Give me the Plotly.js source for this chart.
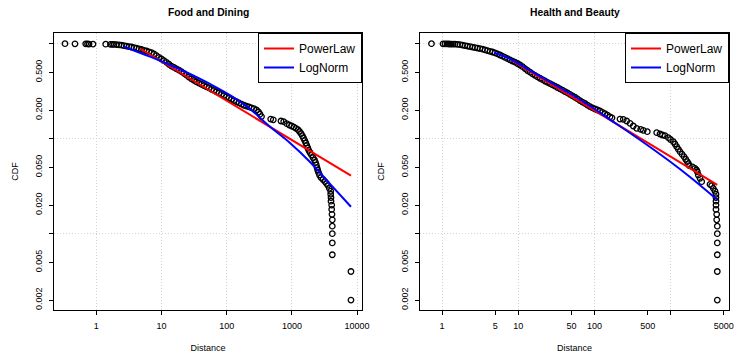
<!DOCTYPE html>
<html><head><meta charset="utf-8">
<script src="https://cdn.plot.ly/plotly-3.0.1.min.js"></script>
<style>html,body{margin:0;padding:0;background:#fff;}#chart{width:742px;height:354px;}</style>
</head><body><div id="chart"></div>
<script>
// ---------- Food and Dining (empirical CCDF) ----------
const foodDistance = [0.331,0.471,0.688,0.733,0.773,0.890,1.394,1.651,1.772,
1.868,2.041,2.229,2.435,2.660,2.905,3.173,3.466,3.786,4.136,4.518,4.934,5.390,5.888,6.432,7.025,7.673,8.381,9.155,10.0,
10.92,11.93,13.03,14.23,15.55,16.98,18.55,20.26,22.13,24.18,26.41,28.85,31.51,34.42,37.60,41.07,44.86,48.99,53.52,58.46,
63.86,69.75,76.18,83.22,90.89,99.29,108.4,118.5,129.4,141.3,154.4,168.7,184.2,201.2,219.8,240.1,262.2,286.4,307.4,324.1,341.8,
473.0,518.4,680.3,748.5,832.3,912.0,992.7,1077,1156,1240,1308,1379,1443,1506,1572,1634,1692,1753,1816,1894,1998,2107,2221,
2301,2366,2426,2486,2558,2650,2794,2999,3218,3393,3553,3746,3936,3936,3978,3978,4076,4076,4120,4164,4164,4164,4164,4164,8050,8050];
const foodCdf = [1.000,0.998,0.996,0.994,0.992,0.990,0.988,0.986,0.984,
0.982,0.978,0.971,0.964,0.953,0.944,0.932,0.923,0.910,0.897,0.884,0.869,0.852,0.838,0.822,0.804,0.779,0.750,0.719,0.690,
0.662,0.636,0.608,0.582,0.562,0.544,0.527,0.508,0.488,0.466,0.446,0.427,0.411,0.396,0.384,0.374,0.363,0.352,0.342,0.331,
0.322,0.312,0.303,0.293,0.285,0.276,0.268,0.260,0.252,0.245,0.238,0.231,0.225,0.220,0.216,0.2115,0.2074,0.2005,0.191,0.181,0.171,
0.161,0.158,0.1536,0.151,0.1439,0.1394,0.136,0.1322,0.1287,0.1244,0.119,0.1134,0.1075,0.1017,0.0957,0.0901,0.0848,0.0798,0.0755,0.0716,0.0674,0.0634,0.0597,
0.0562,0.0529,0.0497,0.0468,0.0441,0.0415,0.0390,0.0372,0.0353,0.0338,0.0323,0.030,0.028,0.026,0.024,0.022,0.020,0.018,0.016,0.014,0.012,0.010,0.008,0.006,0.004,0.002];
const foodPowerLawX = [4.68, 8050];
const foodPowerLawY = [0.890, 0.0408];
const foodLogNormX = [2.66,6.66,13.5,27.4,55.4,112,228,430,935,1897,3840,8050];
const foodLogNormY = [0.930,0.730,0.597,0.480,0.377,0.288,0.206,0.139,0.0901,0.0569,0.0334,0.0192];

// ---------- Health and Beauty (empirical CCDF) ----------
const healthDistance = [0.728,1.031,1.095,1.163,1.236,1.313,1.394,1.481,1.597,1.723,1.858,2.004,2.161,2.330,2.513,2.711,2.924,3.153,3.400,3.667,3.955,
4.265,4.599,4.961,5.350,5.769,6.222,6.710,7.237,7.805,8.418,9.078,9.790,10.56,11.39,12.28,13.24,14.28,15.40,16.61,17.92,19.32,20.84,22.47,24.24,
26.15,28.20,30.41,32.79,35.36,38.14,41.13,44.36,47.83,51.58,55.65,60.01,64.71,69.80,75.27,81.18,87.55,94.41,101.8,109.8,118.4,127.7,137.7,148.6,160.2,170.2,
216.8,239.4,265.3,293.2,323.9,358.9,405.1,438.1,494.5,657.1,725.7,782.6,844.0,932.6,996.8,1085,1142,1202,1262,1328,1411,1499,1578,1656,1717,1759,
1938,2090,2187,2241,2308,2431,2559,3289,3462,3634,3824,3942,3942,3942,3942,3942,4027,4027,4101,4101,4101,4101,4101,4101];
const healthCdf = [1.000,0.998,0.996,0.994,0.993,0.992,0.990,0.988,0.983,0.976,0.967,0.955,0.944,0.932,0.921,0.910,0.899,0.888,0.875,0.860,0.846,
0.832,0.818,0.802,0.783,0.760,0.739,0.717,0.697,0.677,0.657,0.639,0.619,0.597,0.573,0.547,0.522,0.501,0.482,0.465,0.448,0.433,0.419,0.405,0.392,
0.380,0.368,0.357,0.346,0.335,0.324,0.313,0.303,0.293,0.283,0.273,0.262,0.252,0.243,0.235,0.226,0.218,0.2115,0.2055,0.2005,0.1957,0.1896,0.1833,0.1768,0.170,0.166,
0.161,0.160,0.1536,0.1453,0.136,0.1287,0.1256,0.1226,0.1185,0.1156,0.1121,0.1094,0.1075,0.1024,0.0981,0.0930,0.0879,0.0824,0.0775,0.0730,0.0687,0.0646,0.0608,0.0573,0.0546,0.0520,
0.0504,0.0488,0.0468,0.0449,0.0415,0.0383,0.0353,0.033,0.032,0.030,0.028,0.026,0.024,0.022,0.020,0.018,0.016,0.014,0.012,0.010,0.008,0.006,0.004,0.002];
const healthPowerLawX = [8.29, 4101];
const healthPowerLawY = [0.664, 0.0326];
const healthLogNormX = [4.813,7.805,14.28,26.15,47.83,87.55,160.2,293.2,536.6,982,1797,4063];
const healthLogNormY = [0.808,0.690,0.522,0.395,0.299,0.221,0.159,0.1148,0.0818,0.0575,0.0395,0.0229];

// ---------- ticks ----------
const leftXTicks = [1,10,100,1000,10000];
const leftXTickText = ['1','10','100','1000','10000'];
const rightXTicks = [1,5,10,50,100,500,1000,5000];
const rightXTickText = ['1','5','10','50','100','500','','5000'];
const yTicks = [1,0.5,0.2,0.1,0.05,0.02,0.01,0.005,0.002];
const yTickText = ['','0.500','0.200','','0.050','0.020','','0.005','0.002'];
const leftXGrid = [1,10,100,1000,10000];
const rightXGrid = [1,10,100,1000];
const yGrid = [1,0.1,0.01];

const FONT = 'Liberation Sans, Arial, Helvetica, sans-serif';
const W = 742, H = 354;
const leftDom = [54/W, 362/W];
const rightDom = [420/W, 729/W];
const yDom = [1-310/H, 1-33/H];
const leftXRange = [-0.6488, 4.0752];
const rightXRange = [-0.2887, 3.7664];
const yRange = [-2.8032, 0.1126];

function mainAxis(extra){
  return Object.assign({type:'log', autorange:false, showline:true, mirror:true, linecolor:'#000', linewidth:1,
    ticks:'outside', ticklen:4, tickwidth:1, tickcolor:'#000', showgrid:false, zeroline:false, ticklabelstandoff:3,
    tickmode:'array', tickfont:{family:FONT, size:9, color:'#000'}}, extra);
}
function gridAxis(extra){
  return Object.assign({type:'log', autorange:false, showline:false, ticks:'', showticklabels:false,
    showgrid:true, gridcolor:'#d3d3d3', griddash:'1px,2px', gridwidth:1, zeroline:false, tickmode:'array'}, extra);
}
const pts = {mode:'markers', type:'scatter', showlegend:false, hoverinfo:'skip',
  marker:{symbol:'circle-open', size:5.5, color:'#000', line:{width:1.3, color:'#000'}}};

const data = [
  Object.assign({x:foodDistance, y:foodCdf, xaxis:'x', yaxis:'y'}, pts),
  {x:foodPowerLawX, y:foodPowerLawY, xaxis:'x3', yaxis:'y3', mode:'lines', name:'PowerLaw', line:{color:'#ff0000', width:2}, legend:'legend'},
  {x:foodLogNormX, y:foodLogNormY, xaxis:'x3', yaxis:'y3', mode:'lines', name:'LogNorm', line:{color:'#0000ff', width:2, shape:'spline'}, legend:'legend'},
  Object.assign({x:healthDistance, y:healthCdf, xaxis:'x2', yaxis:'y2'}, pts),
  {x:healthPowerLawX, y:healthPowerLawY, xaxis:'x4', yaxis:'y4', mode:'lines', name:'PowerLaw', line:{color:'#ff0000', width:2}, legend:'legend2'},
  {x:healthLogNormX, y:healthLogNormY, xaxis:'x4', yaxis:'y4', mode:'lines', name:'LogNorm', line:{color:'#0000ff', width:2, shape:'spline'}, legend:'legend2'}
];

const xTitle = {text:'Distance', font:{family:FONT, size:9, color:'#000'}, standoff:14};
const yTitle = {text:'CDF', font:{family:FONT, size:9, color:'#000'}, standoff:14};
const legendBase = {yanchor:'top', xanchor:'right', y:yDom[1], bgcolor:'#fff', bordercolor:'#000', borderwidth:1,
  font:{family:FONT, size:12, color:'#000'}, tracegroupgap:0, itemwidth:30};

const layout = {
  width:W, height:H, margin:{l:0,r:0,t:0,b:0}, paper_bgcolor:'#fff', plot_bgcolor:'#fff',
  font:{family:FONT, color:'#000'},
  xaxis: mainAxis({domain:leftDom, anchor:'y', range:leftXRange, tickvals:leftXTicks, ticktext:leftXTickText, title:xTitle}),
  yaxis: mainAxis({domain:yDom, anchor:'x', range:yRange, tickvals:yTicks, ticktext:yTickText, tickangle:-90, title:yTitle}),
  xaxis2: mainAxis({domain:rightDom, anchor:'y2', range:rightXRange, tickvals:rightXTicks, ticktext:rightXTickText, title:xTitle}),
  yaxis2: mainAxis({domain:yDom, anchor:'x2', range:yRange, tickvals:yTicks, ticktext:yTickText, tickangle:-90, title:yTitle}),
  xaxis3: gridAxis({overlaying:'x', anchor:'y3', range:leftXRange, tickvals:leftXGrid}),
  yaxis3: gridAxis({overlaying:'y', anchor:'x3', range:yRange, tickvals:yGrid}),
  xaxis4: gridAxis({overlaying:'x2', anchor:'y4', range:rightXRange, tickvals:rightXGrid}),
  yaxis4: gridAxis({overlaying:'y2', anchor:'x4', range:yRange, tickvals:yGrid}),
  legend: Object.assign({x:leftDom[1]}, legendBase),
  legend2: Object.assign({x:rightDom[1]}, legendBase),
  annotations:[
    {text:'<b>Food and Dining</b>', xref:'paper', yref:'paper', x:(leftDom[0]+leftDom[1])/2, y:1-12/H, xanchor:'center', yanchor:'middle', showarrow:false, font:{family:FONT, size:10.3, color:'#000'}},
    {text:'<b>Health and Beauty</b>', xref:'paper', yref:'paper', x:(rightDom[0]+rightDom[1])/2, y:1-12/H, xanchor:'center', yanchor:'middle', showarrow:false, font:{family:FONT, size:10.3, color:'#000'}}
  ]
};
Plotly.newPlot('chart', data, layout, {staticPlot:true, displayModeBar:false});
</script></body></html>
